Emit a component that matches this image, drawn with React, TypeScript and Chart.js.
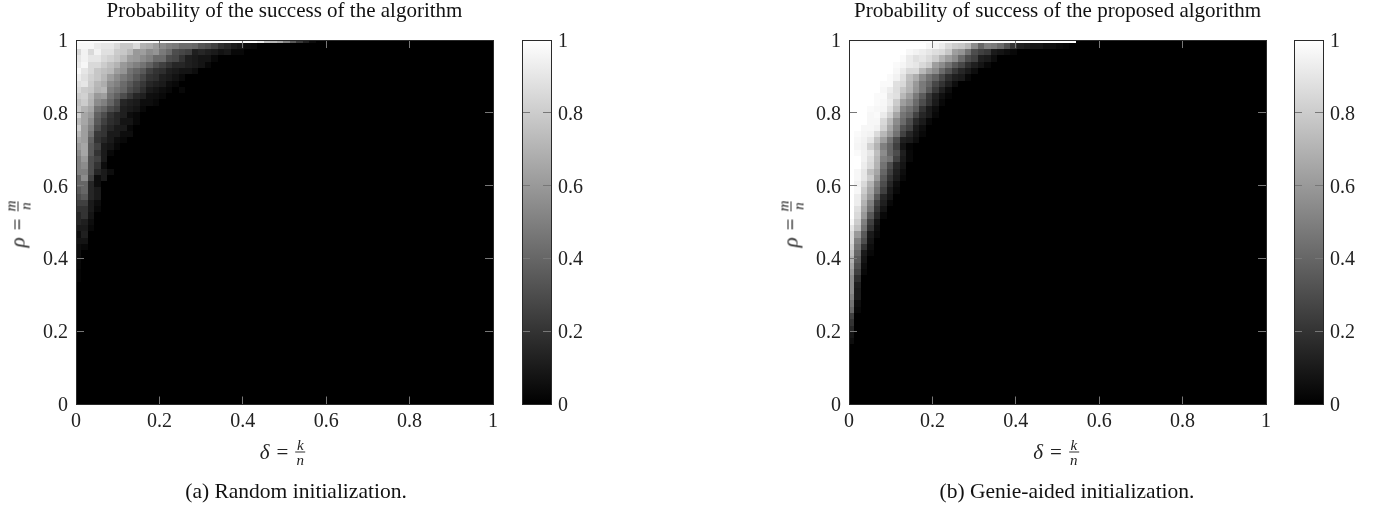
import React, { useEffect, useRef } from "react";
import { Chart, registerables } from "chart.js";

Chart.register(...registerables);

const W1 = 100;
// Success probability (percent). Each list is one row, top row (rho = 1) first; columns run from delta = 0; omitted cells are 0.
const randomRows: number[][] = [
  [99,99,99,99,99,99,99,99,99,99,99,99,99,99,99,99,99,99,99,99,99,99,99,99,99,99,99,99,92,75,72,65,50,35,22,12,4],
  [97,97,97,92,90,90,85,78,78,85,70,68,62,55,50,48,42,42,40,33,30,25,18,15,10,8,4,3],
  [85,95,85,95,88,88,80,78,72,60,62,55,58,48,42,30,28,25,12,15,12,10,7,9,3,3],
  [90,95,90,90,85,82,78,72,62,60,55,50,42,42,30,28,20,12,10,8,8,3],
  [92,97,85,85,80,75,70,60,55,50,45,38,30,25,20,15,15,12,10,8,3],
  [97,90,85,78,75,72,62,58,45,40,35,25,20,18,12,10,8,8,5],
  [93,88,82,78,72,62,55,48,42,35,28,20,18,12,10,7,4],
  [88,90,80,72,68,55,50,42,35,28,22,15,12,10,5,3],
  [85,80,78,70,72,50,45,40,30,25,18,10,8,5,3,0,3],
  [80,82,72,60,62,45,38,30,22,15,12,6,5,3],
  [75,80,70,55,50,40,30,15,12,10,5,5,3],
  [78,70,65,45,40,30,25,12,10,8,3],
  [82,65,60,38,30,20,15,12,5,3],
  [72,65,55,35,25,18,15,8,8,3],
  [80,62,50,30,20,15,10,10,3],
  [72,62,45,22,20,10,10,5,5],
  [65,62,38,20,15,10,5,3],
  [60,65,35,25,10,8,3],
  [55,65,35,20,10,3],
  [50,60,30,25,10],
  [50,55,30,20,5],
  [50,50,30,15,10,5],
  [40,55,25,5,10],
  [40,40,15,5],
  [35,40,15,10],
  [30,35,15,10],
  [25,25,10,5],
  [20,20,10,3],
  [15,20,8],
  [15,12,5],
  [10,10,3],
  [5,12],
  [8,8],
  [5,3],
  [5],
  [4],
  [3],
  [2],
  [2],
];
const genieRows: number[][] = [
  [99,99,99,99,99,99,99,99,99,99,99,99,99,99,99,99,99,99,99,99,99,99,99,99,99,99,99,99,99,99,99,99,99,99,99],
  [100,100,100,100,100,100,100,100,100,100,100,100,97,96,92,85,80,78,72,55,40,50,48,42,32,20,12,10,8,8,5,5,3,2],
  [100,100,100,100,100,100,100,100,100,97,95,93,90,87,85,78,62,58,45,30,25,22,10,8,5,3],
  [100,100,100,100,100,100,100,100,98,92,88,90,86,80,70,62,55,42,30,25,12,10,5],
  [100,100,100,100,100,100,100,98,96,92,90,85,80,62,55,45,35,28,18,12,8,3],
  [100,100,100,100,100,100,100,97,92,85,85,72,62,55,42,32,22,15,10,5],
  [100,100,100,100,100,100,98,95,88,75,68,55,45,38,28,18,12,10,3],
  [100,100,100,100,100,98,98,88,85,72,60,48,40,28,20,12,5],
  [100,100,100,100,100,97,93,87,78,70,58,48,35,22,12,5],
  [100,100,100,100,98,98,90,88,72,62,48,36,22,12,6,2],
  [100,100,100,100,98,97,92,80,62,55,42,30,20,10,3],
  [100,100,100,98,97,96,88,75,52,45,36,20,10,5],
  [100,100,100,97,98,92,82,65,46,40,26,15,10,3],
  [100,100,100,97,97,85,72,55,42,30,16,10,3],
  [100,100,97,97,95,82,66,50,32,25,10,5],
  [100,98,96,95,86,72,60,45,26,15,8,3],
  [100,97,95,90,76,62,46,30,12,10,5],
  [100,96,94,82,70,50,40,25,8,2],
  [100,98,95,90,75,55,40,30,12,3],
  [100,100,95,87,72,50,45,25,10,3],
  [100,100,93,85,70,45,30,15,8],
  [100,97,90,75,65,40,25,12,5],
  [100,97,90,80,60,35,20,10,3],
  [100,95,85,70,50,30,15,5],
  [100,97,80,65,45,25,10,3],
  [100,93,75,60,35,15,8],
  [100,93,70,50,25,12,3],
  [100,88,65,45,20,8],
  [100,85,60,35,15,3],
  [97,80,50,25,8],
  [90,75,45,20,5],
  [85,60,35,10,3],
  [85,50,30,8],
  [80,45,20,5],
  [75,40,10,3],
  [70,35,8],
  [65,30,5],
  [60,25,3],
  [55,18],
  [55,12],
  [55,10],
  [50,10],
  [45,5],
  [40,3],
  [25],
  [20],
  [15],
  [8],
  [5],
];
const columnCount = 64;
const rowCount = 58;
const axisTicks = [0, 0.2, 0.4, 0.6, 0.8, 1];
const colorbarStops = ["#000000", "#ffffff"];
const titles = ["Probability of the success of the algorithm", "Probability of success of the proposed algorithm"];
const captions = ["(a) Random initialization.", "(b) Genie-aided initialization."];

const SERIF = '"Liberation Serif", serif';
const TICK_FONT = { family: SERIF, size: 20 };
const TICK_COL = "#777777";
const FRAME = "#2a2a2a";
const CELL_OFFSET = 0.005;

const cellCache = new Map<number, HTMLCanvasElement>();
function cellImage(v: number) {
  let c = cellCache.get(v);
  if (!c) {
    c = document.createElement("canvas");
    c.width = 7;
    c.height = 7;
    const g = c.getContext("2d")!;
    const s = Math.round((v / 100) * 255);
    g.fillStyle = `rgb(${s},${s},${s})`;
    g.fillRect(0, 0, 7, 7);
    cellCache.set(v, c);
  }
  return c;
}

function cells(rows: number[][]) {
  const out: { x: number; y: number; v: number }[] = [];
  for (let r = 0; r <= rowCount; r++) {
    for (let i = 0; i <= columnCount; i++) {
      out.push({ x: Math.min(1, CELL_OFFSET + i / columnCount), y: 1 - r / rowCount, v: rows[r]?.[i] ?? 0 });
    }
  }
  return out;
}

const fixTicks = () => ({
  display: true,
  drawOnChartArea: false,
  drawTicks: true,
  tickLength: -8,
  tickColor: TICK_COL,
  tickWidth: 1,
  z: 1,
});

function linearAxis(axis: string, position: string, showLabels: boolean, size: number, padding: number) {
  return {
    type: "linear",
    axis,
    position,
    min: 0,
    max: 1,
    afterBuildTicks: (s: any) => {
      s.ticks = axisTicks.map((value) => ({ value }));
    },
    afterFit: (s: any) => {
      if (axis === "x") s.height = size;
      else s.width = size;
    },
    grid: fixTicks(),
    border: { display: true, color: FRAME, width: 1, z: 2 },
    ticks: {
      display: showLabels,
      font: TICK_FONT,
      color: "#222",
      padding,
      autoSkip: false,
      maxRotation: 0,
      labelOffset: axis === "y" ? 1.5 : 0,
      callback: (v: number) => String(Math.round(v * 10) / 10),
    },
  };
}

function makeHeatmap(canvas: HTMLCanvasElement, rows: number[][], title: string) {
  return new Chart(canvas, {
    type: "scatter",
    data: {
      datasets: [
        {
          data: cells(rows),
          pointRadius: 1,
          pointHoverRadius: 1,
          pointBorderWidth: 0,
          pointStyle: (c: any) => (c.raw ? cellImage(c.raw.v) : "rect"),
        } as any,
      ],
    },
    options: {
      animation: false,
      responsive: false,
      events: [],
      layout: { padding: 0 },
      plugins: {
        legend: { display: false },
        tooltip: { enabled: false },
        title: {
          display: true,
          text: title,
          color: "#111",
          font: { family: SERIF, size: 21, weight: "normal", lineHeight: 1.05 },
          padding: 0,
        },
      },
      scales: {
        x: linearAxis("x", "bottom", true, 101.5, 13),
        xTop: linearAxis("x", "top", false, 18, 0),
        y: linearAxis("y", "left", true, 76, 16),
        yRight: linearAxis("y", "right", false, 76, 0),
      },
    } as any,
  });
}

function makeColorbar(canvas: HTMLCanvasElement) {
  const colorbarRange = [0, 1];
  return new Chart(canvas, {
    type: "bar",
    data: {
      labels: [""],
      datasets: [
        {
          data: [colorbarRange as any],
          barPercentage: 1,
          categoryPercentage: 1,
          borderWidth: 0,
          backgroundColor: (c: any) => {
            const { ctx, chartArea } = c.chart;
            if (!chartArea) return "#000";
            const g = ctx.createLinearGradient(0, chartArea.bottom, 0, chartArea.top);
            colorbarStops.forEach((s, i) => g.addColorStop(i, s));
            return g;
          },
        },
      ],
    },
    options: {
      animation: false,
      responsive: false,
      events: [],
      layout: { padding: 0 },
      plugins: { legend: { display: false }, tooltip: { enabled: false } },
      scales: {
        x: {
          type: "category",
          position: "bottom",
          afterFit: (s: any) => (s.height = 101.5),
          grid: { display: false },
          ticks: { display: false },
          border: { display: true, color: FRAME, width: 1, z: 2 },
        },
        xTop: {
          type: "linear",
          axis: "x",
          position: "top",
          min: 0,
          max: 1,
          afterFit: (s: any) => (s.height = 40),
          grid: { display: false },
          ticks: { display: false },
          border: { display: true, color: FRAME, width: 1, z: 2 },
        },
        y: linearAxis("y", "left", false, W1 - 78, 0),
        yRight: { ...linearAxis("y", "right", true, 49, 15) },
      },
    } as any,
  });
}

const mathStyle: React.CSSProperties = {
  position: "absolute",
  display: "inline-flex",
  alignItems: "center",
  gap: 7,
  fontFamily: SERIF,
  fontSize: 21,
  color: "#222",
  whiteSpace: "nowrap",
};

function Fraction({ top, bottom }: { top: string; bottom: string }) {
  return (
    <span style={{ display: "inline-flex", flexDirection: "column", alignItems: "center", fontStyle: "italic", fontSize: 15, lineHeight: "12px" }}>
      <span style={{ paddingBottom: 1 }}>{top}</span>
      <span style={{ borderTop: "1px solid #333", paddingTop: 1, minWidth: 10, textAlign: "center" }}>{bottom}</span>
    </span>
  );
}

function MathLabel({ symbol, top, bottom, x, y, rotate }: { symbol: string; top: string; bottom: string; x: number; y: number; rotate?: boolean }) {
  return (
    <div style={{ ...mathStyle, left: x, top: y, transform: `translate(-50%,-50%)${rotate ? " rotate(-90deg)" : ""}` }}>
      <span style={{ fontStyle: "italic" }}>{symbol}</span>
      <span>=</span>
      <Fraction top={top} bottom={bottom} />
    </div>
  );
}

function Caption({ text, x }: { text: string; x: number }) {
  return (
    <div style={{ position: "absolute", left: x, top: 491, transform: "translate(-50%,-50%)", fontFamily: SERIF, fontSize: 21.5, color: "#111", whiteSpace: "nowrap" }}>
      {text}
    </div>
  );
}

export default function App() {
  const a = useRef<HTMLCanvasElement>(null);
  const b = useRef<HTMLCanvasElement>(null);
  const ca = useRef<HTMLCanvasElement>(null);
  const cb = useRef<HTMLCanvasElement>(null);
  useEffect(() => {
    document.body.style.margin = "0";
    const charts = [
      makeHeatmap(a.current!, randomRows, titles[0]),
      makeHeatmap(b.current!, genieRows, titles[1]),
      makeColorbar(ca.current!),
      makeColorbar(cb.current!),
    ];
    return () => charts.forEach((c) => c.destroy());
  }, []);
  const abs = (left: number, width: number): React.CSSProperties => ({ position: "absolute", left, top: 0, width, height: 506 });
  return (
    <div style={{ position: "absolute", left: 0, top: 0, width: 1381, height: 506, overflow: "hidden", background: "#fff" }}>
      <canvas ref={a} width={569} height={506} style={abs(0, 569)} />
      <canvas ref={b} width={569} height={506} style={abs(773, 569)} />
      <canvas ref={ca} width={W1} height={506} style={abs(500, W1)} />
      <canvas ref={cb} width={W1} height={506} style={abs(1272, W1)} />
      <MathLabel symbol="δ" top="k" bottom="n" x={282.5} y={452} />
      <MathLabel symbol="δ" top="k" bottom="n" x={1056} y={452} />
      <MathLabel symbol="ρ" top="m" bottom="n" x={18} y={224} rotate />
      <MathLabel symbol="ρ" top="m" bottom="n" x={791} y={224} rotate />
      <Caption text={captions[0]} x={296} />
      <Caption text={captions[1]} x={1067} />
    </div>
  );
}
